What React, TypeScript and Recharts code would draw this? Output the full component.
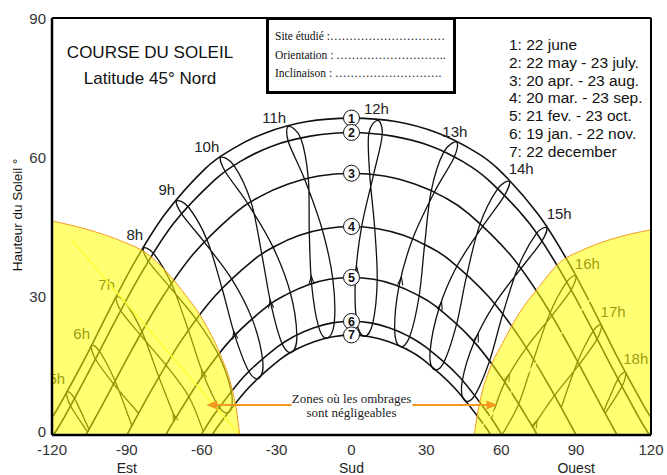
import React from 'react';
import { ComposedChart, Line, Area, Scatter, XAxis, YAxis } from 'recharts';

type P = [number, number];

const sans = '"Liberation Sans", Arial, sans-serif';
const serif = '"Liberation Serif", "Times New Roman", serif';
const ink = '#111';
const orange = '#f39a1e';

// sun paths, [azimuth, altitude] - one per date
const june22: P[] = [[-120, 3.8], [-116.9, 6.5], [-107, 16.3], [-97.3, 26.7], [-86.9, 37.3], [-74.7, 47.7], [-58.6, 57.5], [-47.8, 61.7], [-34.5, 65.2], [-18.3, 67.6], [0, 68.4], [18.3, 67.6], [34.5, 65.2], [47.8, 61.7], [58.6, 57.5], [74.7, 47.7], [86.9, 37.3], [97.3, 26.7], [107, 16.3], [116.9, 6.5], [120, 3.8]];
const may22: P[] = [[-119.4, 0], [-114.7, 4.2], [-104.7, 14.2], [-94.7, 24.6], [-83.9, 35.2], [-71.4, 45.6], [-54.9, 55], [-44.3, 59.1], [-31.6, 62.4], [-16.5, 64.5], [0, 65.3], [16.5, 64.5], [31.6, 62.4], [44.3, 59.1], [54.9, 55], [71.4, 45.6], [83.9, 35.2], [94.7, 24.6], [104.7, 14.2], [114.7, 4.2], [119.4, 0]];
const apr20: P[] = [[-106.4, 0], [-98.2, 8.1], [-87.7, 18.7], [-76.4, 29.2], [-63.3, 39.1], [-46.9, 47.8], [-36.9, 51.4], [-25.6, 54.1], [-13.2, 55.9], [0, 56.5], [13.2, 55.9], [25.6, 54.1], [36.9, 51.4], [46.9, 47.8], [63.3, 39.1], [76.4, 29.2], [87.7, 18.7], [98.2, 8.1], [106.4, 0]];
const mar20: P[] = [[-90, 0], [-79.3, 10.5], [-67.8, 20.7], [-54.7, 30], [-39.2, 37.8], [-30.4, 40.8], [-20.8, 43.1], [-10.5, 44.5], [0, 45], [10.5, 44.5], [20.8, 43.1], [30.4, 40.8], [39.2, 37.8], [54.7, 30], [67.8, 20.7], [79.3, 10.5], [90, 0]];
const feb21: P[] = [[-74.4, 0], [-71.6, 2.6], [-60.4, 12.2], [-48, 20.8], [-33.7, 27.8], [-25.8, 30.4], [-17.5, 32.4], [-8.9, 33.6], [0, 34], [8.9, 33.6], [17.5, 32.4], [25.8, 30.4], [33.7, 27.8], [48, 20.8], [60.4, 12.2], [71.6, 2.6], [74.4, 0]];
const jan19: P[] = [[-60.3, 0], [-54.5, 4.8], [-42.8, 12.8], [-29.7, 19], [-22.6, 21.4], [-15.3, 23.1], [-7.7, 24.2], [0, 24.5], [7.7, 24.2], [15.3, 23.1], [22.6, 21.4], [29.7, 19], [42.8, 12.8], [54.5, 4.8], [60.3, 0]];
const dec22: P[] = [[-55.8, 0], [-52.7, 2.5], [-41.2, 10.2], [-28.6, 16.3], [-21.7, 18.6], [-14.7, 20.2], [-7.4, 21.2], [0, 21.6], [7.4, 21.2], [14.7, 20.2], [21.7, 18.6], [28.6, 16.3], [41.2, 10.2], [52.7, 2.5], [55.8, 0]];

// hour lines (analemmas) that close above the horizon
const h8: P[] = [[-83.4, 40.3], [-81.3, 37.4], [-72.8, 31.9], [-62, 24.8], [-53.2, 17.2], [-48.1, 9.2], [-48.8, 5.1], [-52.9, 5.9], [-59.3, 13], [-65.3, 22.5], [-72, 32.5], [-79.2, 39.1]];
const h9: P[] = [[-70.1, 50.5], [-67.9, 47.6], [-58.8, 41.5], [-47.8, 33.5], [-39.7, 24.9], [-35.6, 16.2], [-36.9, 12.3], [-41, 13.6], [-46.7, 21.4], [-51.8, 31.5], [-57.8, 42], [-65.2, 49.1]];
const h10: P[] = [[-52.4, 59.9], [-50.4, 56.7], [-41.4, 49.8], [-31.4, 40.5], [-24.5, 30.7], [-21.9, 21.6], [-23.8, 17.9], [-27.8, 19.7], [-32.3, 28.3], [-35.9, 38.9], [-40.2, 50.2], [-47, 58.1]];
const h11: P[] = [[-25.2, 66.6], [-25.3, 63.3], [-18.7, 55.1], [-11.7, 44.3], [-7.5, 33.7], [-6.9, 24.2], [-9.7, 20.9], [-13.2, 23.4], [-16, 32.6], [-16.9, 43.6], [-17.3, 55.3], [-20.3, 64]];
const h12: P[] = [[10.5, 67.9], [6.9, 65], [7.3, 56.2], [9.3, 44.6], [10.3, 33.4], [8.5, 24.1], [5.1, 21.3], [2.1, 24.4], [1.6, 33.9], [4, 44.8], [8.8, 56.1], [12.3, 64.7]];
const h13: P[] = [[42.1, 63.2], [36.9, 61], [31.9, 52.6], [29.3, 41.1], [27.1, 30], [23.3, 21.2], [19.5, 19.1], [17.3, 22.6], [19, 32], [24.4, 42.2], [33.1, 52.3], [41.1, 59.9]];
const h14: P[] = [[63.2, 54.7], [58.4, 53], [51.4, 45.4], [46.1, 34.3], [42, 23.7], [36.9, 15.6], [32.9, 14.2], [31.5, 18.1], [35, 27.2], [42.1, 36.3], [52.4, 44.9], [61.1, 51.5]];
const h15: P[] = [[78.2, 44.7], [74, 43.4], [66.9, 36.4], [60.5, 25.9], [55.2, 15.8], [49.2, 8.4], [45.1, 7.6], [44.4, 11.7], [49.1, 20], [57.2, 28.2], [67.7, 35.8], [76.1, 41.7]];

// hour lines cut by the horizon
const h5: P[] = [[-105.2, 1.2], [-111, 7.9], [-114.1, 9.3], [-112.6, 6.3], [-105.8, 0.7]];
const h6: P[] = [[-88, 2], [-94.7, 11.6], [-101, 18.1], [-104.2, 19.3], [-102.6, 16.4], [-95.3, 11], [-85.3, 4.7]];
const h7: P[] = [[-70.6, 3.5], [-77.1, 12.4], [-83.9, 22.2], [-90.6, 28.6], [-94.3, 29.7], [-92.4, 26.8], [-84.6, 21.6], [-74.2, 15], [-65.1, 8.2], [-59.4, 0.8]];
const h16: P[] = [[56, 3.6], [61.4, 11.3], [70, 18.8], [80.2, 25.7], [87.9, 31.2], [89.9, 34.3], [86.2, 33], [79.5, 26.3], [72.9, 16.2], [66.9, 6.6], [60.3, 0]];
const h17: P[] = [[72.6, 1.7], [81.3, 8.5], [91.2, 15.2], [98.4, 20.7], [100.1, 23.7], [96.8, 22.4], [90.6, 15.8], [84, 5.9]];
const h18: P[] = [[101.7, 4.7], [108.4, 10.5], [109.8, 13.5], [106.8, 12.1], [101.1, 5.2]];

const hourLabels = [
  { x: -118.1, y: 12.1, t: '5h' }, { x: -108.1, y: 21.9, t: '6h' }, { x: -98.1, y: 32.4, t: '7h' },
  { x: -86.8, y: 43.2, t: '8h' }, { x: -74, y: 53, t: '9h' }, { x: -58, y: 62.2, t: '10h' },
  { x: -31, y: 68.6, t: '11h' }, { x: 10, y: 70.4, t: '12h' }, { x: 41.4, y: 65.6, t: '13h' },
  { x: 68, y: 57.6, t: '14h' }, { x: 83.2, y: 47.7, t: '15h' }, { x: 94.5, y: 37.1, t: '16h' },
  { x: 104.8, y: 26.6, t: '17h' }, { x: 113.9, y: 16.6, t: '18h' },
];

// small direction marks on the hour lines
const chevrons: P[] = [[-71.4, 4.6], [-59.9, 14], [-47.2, 22.4], [-32.6, 29.1], [-16.1, 34.3], [2.1, 36.3], [20, 34.1], [36.1, 28.7], [50.8, 21.8], [63.3, 13.2], [74.4, 3.2]];

const curveNumbers = [
  { x: 0, y: 68.4, n: '1' }, { x: 0, y: 65.3, n: '2' }, { x: 0, y: 56.5, n: '3' }, { x: 0, y: 45, n: '4' },
  { x: 0, y: 34, n: '5' }, { x: 0, y: 24.5, n: '6' }, { x: 0, y: 21.6, n: '7' },
];

// zones where shading is negligible
const zoneEast: P[] = [[-120, 46.2], [-104.8, 44.2], [-91.5, 41.7], [-82.1, 39.2], [-74.1, 35.2], [-67.5, 30.9], [-59.5, 24.8], [-52.8, 17.6], [-48.1, 10.4], [-46, 5], [-44.8, 0]];
const zoneWest: P[] = [[49.2, 0], [50.3, 4], [51.9, 8.3], [55.2, 14], [60.5, 19.8], [67.2, 26.3], [75.2, 32], [83.2, 37.1], [92.5, 39.9], [103.2, 42.1], [120, 44.3]];
const diagEast: P[] = [[-112, 42], [-44.8, 0]];
const diagWest: P[] = [[118, 43.2], [49.2, 0]];

const arrowEast: P[] = [[-24, 6.5], [-54, 6.5]];
const arrowWest: P[] = [[24.4, 6.5], [54.5, 6.5]];
const arrowTips: P[] = [[-58.2, 6.5], [58.5, 6.5]];
const zoneText = [{ x: 0, y: 7.9, t: 'Zones où les ombrages' }, { x: 0, y: 4.9, t: 'sont négligeables' }];

const xTicks = [-120, -90, -60, -30, 0, 30, 60, 90, 120];
const minorX = [-110, -100, -90, -80, -70, -60, -50, -40, -30, -20, -10, 0, 10, 20, 30, 40, 50, 60, 70, 80, 90, 100, 110];
const yTicks = [0, 30, 60, 90];
const minorY = [10, 20, 30, 40, 50, 60, 70, 80];
const directions: Record<number, string> = { [-90]: 'Est', 0: 'Sud', 90: 'Ouest' };

const legendLines = [
  '1: 22 june', '2: 22 may - 23 july.', '3: 20 apr. - 23 aug.', '4: 20 mar. - 23 sep.',
  '5: 21 fev. - 23 oct.', '6: 19 jan. - 22 nov.', '7: 22 december',
];

const toPts = (a: P[]) => a.map(([x, y]) => ({ x, y }));

// Catmull-Rom through the points, optionally closed (d3 curve factory)
const catmull = (closed: boolean) => (ctx: any) => {
  let pts: number[][] = [];
  return {
    areaStart() {},
    areaEnd() {},
    lineStart() { pts = []; },
    point(x: number, y: number) { pts.push([+x, +y]); },
    lineEnd() {
      const n = pts.length;
      if (!n) return;
      const at = (i: number) => (closed ? pts[(i + n) % n] : pts[Math.max(0, Math.min(n - 1, i))]);
      ctx.moveTo(pts[0][0], pts[0][1]);
      const segs = closed ? n : n - 1;
      for (let i = 0; i < segs; i++) {
        const p0 = at(i - 1), p1 = at(i), p2 = at(i + 1), p3 = at(i + 2);
        ctx.bezierCurveTo(
          p1[0] + (p2[0] - p0[0]) / 6, p1[1] + (p2[1] - p0[1]) / 6,
          p2[0] - (p3[0] - p1[0]) / 6, p2[1] - (p3[1] - p1[1]) / 6,
          p2[0], p2[1],
        );
      }
      if (closed) ctx.closePath();
    },
  };
};
const openCurve = catmull(false);
const closedCurve = catmull(true);

const XTick = (props: any) => {
  const { x, y, payload } = props;
  const word = directions[payload.value];
  return (
    <g>
      <text x={x} y={y} dy="0.75em" textAnchor="middle" fontSize={15} fill="#333" fontFamily={sans}>{payload.value}</text>
      {word && (
        <text x={x} y={y + 18} dy="0.75em" textAnchor="middle" fontSize={14} fill="#222" fontFamily={sans}>{word}</text>
      )}
    </g>
  );
};

const YTick = (props: any) => {
  const { x, y, payload } = props;
  return (
    <text x={x} y={payload.value === 0 ? y - 4 : y} textAnchor="end" dominantBaseline="central" fontSize={15} fill="#333" fontFamily={sans}>
      {payload.value}
    </text>
  );
};

const noTick = () => <g />;

const HourLabel = (p: any) => (
  <text x={p.cx} y={p.cy} textAnchor="middle" dominantBaseline="central" fontSize={15} fill="#222" fontFamily={sans}>{p.payload.t}</text>
);

const Chevron = (p: any) => (
  <path d="M-2.6,8 L0,0 L2.6,8" transform={`translate(${p.cx},${p.cy}) rotate(${p.payload.x * 0.3 + 3})`} fill="none" stroke={ink} strokeWidth={1.1} />
);

const Circled = (p: any) => (
  <g>
    <circle cx={p.cx} cy={p.cy} r={8} fill="#fff" stroke={ink} strokeWidth={1} />
    <text x={p.cx} y={p.cy + 0.5} textAnchor="middle" dominantBaseline="central" fontSize={12.5} fontWeight="bold" fill={ink} fontFamily={sans}>{p.payload.n}</text>
  </g>
);

const ArrowHead = (p: any) => {
  const d = p.payload.x < 0 ? 1 : -1;
  return <path d={`M${p.cx},${p.cy} l${d * 11},-4.5 l0,9 z`} fill={orange} />;
};

const ZoneText = (p: any) => (
  <text x={p.cx} y={p.cy} textAnchor="middle" dominantBaseline="central" fontSize={13} fill="#222" fontFamily={serif}>{p.payload.t}</text>
);

const dateCurves = [june22, may22, apr20, mar20, feb21, jan19, dec22];
const closedHours = [h8, h9, h10, h11, h12, h13, h14, h15];
const openHours = [h5, h6, h7, h16, h17, h18];

export default function App() {
  return (
    <div style={{ position: 'absolute', left: 0, top: 0, width: 667, height: 475, background: '#fff', overflow: 'hidden' }}>
      <ComposedChart width={667} height={475} margin={{ top: 18, right: 16, bottom: 0, left: 0 }}>
        <XAxis dataKey="x" type="number" domain={[-120, 120]} ticks={xTicks} interval={0} allowDataOverflow
          tickLine={false} tickSize={6} tickMargin={3} height={40}
          axisLine={{ stroke: '#000', strokeWidth: 2.5 }} tick={<XTick />} />
        <XAxis xAxisId="bm" type="number" domain={[-120, 120]} ticks={minorX} interval={0} orientation="bottom" mirror
          tick={noTick} tickSize={5} tickLine={{ stroke: '#444' }} axisLine={false} />
        <XAxis xAxisId="tp" type="number" domain={[-120, 120]} ticks={minorX} interval={0} orientation="top" mirror
          tick={noTick} tickSize={5} tickLine={{ stroke: '#444' }} axisLine={{ stroke: '#000', strokeWidth: 2 }} />
        <YAxis dataKey="y" type="number" domain={[0, 90]} ticks={yTicks} interval={0} allowDataOverflow width={52}
          tickLine={false} tickSize={3} tickMargin={3}
          axisLine={{ stroke: '#000', strokeWidth: 2.5 }} tick={<YTick />} />
        <YAxis yAxisId="lm" type="number" domain={[0, 90]} ticks={minorY} interval={0} orientation="left" mirror
          tick={noTick} tickSize={5} tickLine={{ stroke: '#444' }} axisLine={false} />
        <YAxis yAxisId="rt" type="number" domain={[0, 90]} ticks={minorY} interval={0} orientation="right" mirror
          tick={noTick} tickSize={5} tickLine={{ stroke: '#444' }} axisLine={{ stroke: '#000', strokeWidth: 2 }} />

        {dateCurves.map((c, i) => (
          <Line key={`d${i}`} data={toPts(c)} dataKey="y" type={openCurve} stroke={ink} strokeWidth={1.6}
            dot={false} activeDot={false} isAnimationActive={false} />
        ))}
        {closedHours.map((c, i) => (
          <Line key={`c${i}`} data={toPts(c)} dataKey="y" type={closedCurve} stroke={ink} strokeWidth={1.3}
            dot={false} activeDot={false} isAnimationActive={false} />
        ))}
        {openHours.map((c, i) => (
          <Line key={`o${i}`} data={toPts(c)} dataKey="y" type={openCurve} stroke={ink} strokeWidth={1.3}
            dot={false} activeDot={false} isAnimationActive={false} />
        ))}
        <Scatter data={hourLabels} dataKey="y" shape={HourLabel} isAnimationActive={false} zIndex={410} />
        <Scatter data={toPts(chevrons)} dataKey="y" shape={Chevron} isAnimationActive={false} zIndex={410} />

        <Area data={toPts(zoneEast)} dataKey="y" type="monotone" fill="#ffff00" fillOpacity={0.55}
          stroke={orange} strokeWidth={1} dot={false} activeDot={false} isAnimationActive={false} zIndex={450} />
        <Area data={toPts(zoneWest)} dataKey="y" type="monotone" fill="#ffff00" fillOpacity={0.55}
          stroke={orange} strokeWidth={1} dot={false} activeDot={false} isAnimationActive={false} zIndex={450} />
        <Line data={toPts(diagEast)} dataKey="y" stroke="#ffff30" strokeWidth={1.5} dot={false} activeDot={false}
          isAnimationActive={false} zIndex={460} />
        <Line data={toPts(diagWest)} dataKey="y" stroke="#ffff70" strokeWidth={1.5} dot={false} activeDot={false}
          isAnimationActive={false} zIndex={460} />

        <Scatter data={curveNumbers} dataKey="y" shape={Circled} isAnimationActive={false} zIndex={600} />
        <Line data={toPts(arrowEast)} dataKey="y" stroke={orange} strokeWidth={2} dot={false} activeDot={false}
          isAnimationActive={false} zIndex={700} />
        <Line data={toPts(arrowWest)} dataKey="y" stroke={orange} strokeWidth={2} dot={false} activeDot={false}
          isAnimationActive={false} zIndex={700} />
        <Scatter data={toPts(arrowTips)} dataKey="y" shape={ArrowHead} isAnimationActive={false} zIndex={700} />
        <Scatter data={zoneText} dataKey="y" shape={ZoneText} isAnimationActive={false} zIndex={700} />
      </ComposedChart>

      <div style={{ position: 'absolute', left: 50, top: 40, width: 200, textAlign: 'center', fontFamily: sans, fontSize: 17, lineHeight: '26px', color: ink }}>
        <div>COURSE DU SOLEIL</div>
        <div>Latitude 45° Nord</div>
      </div>

      <div style={{ position: 'absolute', left: 266, top: 17, width: 178, height: 64, border: '3px solid #000', background: '#fff', fontFamily: serif, fontSize: 11.5, lineHeight: '18.5px', color: ink, paddingTop: 7, paddingLeft: 6, boxSizing: 'content-box', whiteSpace: 'nowrap', overflow: 'hidden' }}>
        <div>Site étudié :…………………………</div>
        <div>Orientation : ………………………..</div>
        <div>Inclinaison : ……………………….</div>
      </div>

      <div style={{ position: 'absolute', left: 509, top: 36, fontFamily: sans, fontSize: 15.5, lineHeight: '17.8px', color: ink, whiteSpace: 'nowrap' }}>
        {legendLines.map((l) => <div key={l}>{l}</div>)}
      </div>

      <div style={{ position: 'absolute', left: 17, top: 215, transform: 'translate(-50%, -50%) rotate(-90deg)', fontFamily: sans, fontSize: 13.5, color: ink, whiteSpace: 'nowrap' }}>
        Hauteur du Soleil °
      </div>
    </div>
  );
}
